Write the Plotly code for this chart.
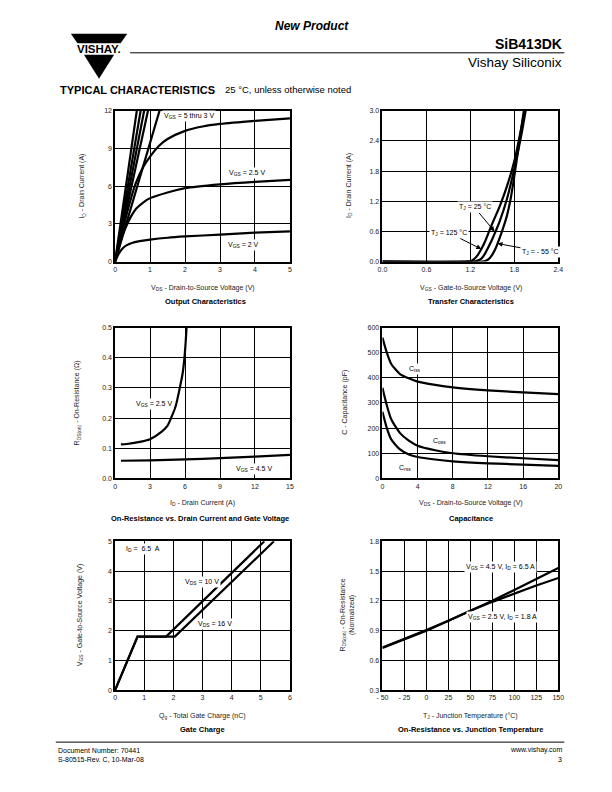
import plotly.graph_objects as go

# ---------------- DATA ----------------
# 1. Output characteristics (VDS in V, ID in A)
out_steep_vds_end = [0.62, 0.73, 0.83, 0.94, 1.27]   # VDS where steep curves reach 12 A (VGS 5 thru 3 V)
out_steep_id_end = [12, 12, 12, 12, 12]
out_c3_vds = [0, 0.2, 0.4, 0.6, 0.8, 1.0, 1.25, 1.5, 2.0, 2.5, 3.0, 4.0, 5.0]
out_c3_id = [0, 2.3, 4.5, 6.3, 7.5, 8.35, 9.2, 9.75, 10.4, 10.75, 10.95, 11.2, 11.4]
out_25_vds = [0, 0.2, 0.4, 0.6, 0.8, 1.0, 1.5, 2.0, 3.0, 4.0, 5.0]
out_25_id = [0, 2.0, 3.3, 4.2, 4.7, 5.05, 5.5, 5.85, 6.15, 6.35, 6.5]
out_20_vds = [0, 0.1, 0.2, 0.3, 0.5, 0.75, 1.0, 1.5, 2.0, 3.0, 4.0, 5.0]
out_20_id = [0, 0.6, 1.0, 1.25, 1.5, 1.65, 1.75, 1.9, 2.0, 2.15, 2.3, 2.4]

# 2. Transfer characteristics (VGS in V, ID in A)
tr_125_vgs = [0, 1.1, 1.2, 1.25, 1.3, 1.35, 1.4, 1.45, 1.5, 1.6, 1.7, 1.8, 1.9, 1.95]
tr_125_id = [0, 0, 0.01, 0.05, 0.13, 0.25, 0.4, 0.58, 0.76, 1.1, 1.5, 2.0, 2.7, 3.1]
tr_25_vgs = [0, 1.25, 1.3, 1.35, 1.4, 1.45, 1.5, 1.55, 1.6, 1.7, 1.8, 1.9, 1.96]
tr_25_id = [0, 0, 0.02, 0.06, 0.16, 0.3, 0.45, 0.62, 0.8, 1.25, 1.85, 2.55, 3.05]
tr_m55_vgs = [0, 1.35, 1.4, 1.45, 1.5, 1.55, 1.6, 1.65, 1.7, 1.75, 1.8, 1.85, 1.9, 1.95]
tr_m55_id = [0, 0, 0.01, 0.05, 0.14, 0.28, 0.47, 0.68, 0.92, 1.25, 1.7, 2.2, 2.7, 3.2]

# 3. On-resistance vs drain current (ID in A, RDS(on) in ohm)
ron_25_id = [0.5, 1, 2, 3, 4, 4.5, 4.8, 5.2, 5.55, 5.8, 5.95, 6.05, 6.13, 6.2]
ron_25_r = [0.113, 0.114, 0.12, 0.13, 0.155, 0.175, 0.2, 0.24, 0.30, 0.35, 0.40, 0.45, 0.5, 0.55]
ron_45_id = [0.5, 3, 6, 9, 12, 15]
ron_45_r = [0.0585, 0.060, 0.063, 0.067, 0.072, 0.078]

# 4. Capacitance (VDS in V, C in pF)
cap_vds = [0, 0.5, 1, 2, 3, 4, 6, 8, 12, 16, 20]
cap_ciss = [560, 500, 455, 415, 398, 385, 372, 362, 350, 342, 335]
cap_coss = [360, 290, 235, 180, 150, 130, 112, 100, 88, 80, 73]
cap_crss = [265, 200, 155, 115, 95, 85, 75, 68, 60, 55, 50]

# 5. Gate charge (Qg in nC, VGS in V)
gc_10_qg = [0, 0.77, 1.75, 5.12]
gc_10_vgs = [0, 1.8, 1.8, 5.0]
gc_16_qg = [0, 0.77, 2.05, 5.45]
gc_16_vgs = [0, 1.8, 1.8, 5.0]

# 6. On-resistance vs junction temperature (TJ in degC, normalized)
rt_tj = [-50, -25, 0, 25, 50, 75, 100, 125, 150]
rt_45 = [0.73, 0.815, 0.905, 1.0, 1.1, 1.2, 1.31, 1.42, 1.53]
rt_25 = [0.725, 0.81, 0.9, 1.0, 1.1, 1.19, 1.275, 1.355, 1.43]

# tick labels
tj_ticks = [-50, -25, 0, 25, 50, 75, 100, 125, 150]
tj_ticktext = ["- 50", "- 25", "0", "25", "50", "75", "100", "125", "150"]

# ---------------- FIGURE ----------------
OFF = 8                      # default page body margin of the html page
W, H = 612 - 2 * OFF, 792 - 2 * OFF   # keep the page free of scrollbars
FONT = "Liberation Sans, Arial, sans-serif"
TXT = "#222222"
# empirical correction between intended page pixels and the photographed picture
SX, BX = 0.975, 7.6
SY, BY = 0.992, 3.2


def X(px):
    return ((px - BX) / SX - OFF) / W


def Y(py):
    return 1 - ((py - BY) / SY - OFF) / H


fig = go.Figure()
LW = 2.2


def line(x, y, ax, shape="spline"):
    fig.add_trace(go.Scatter(x=x, y=y, mode="lines", xaxis="x" + ax, yaxis="y" + ax,
                             line=dict(color="black", width=LW, shape=shape, smoothing=0.6),
                             showlegend=False, hoverinfo="skip"))


# plot 1
for xe, ye in zip(out_steep_vds_end, out_steep_id_end):
    line([0, xe * 1.15], [0, ye * 1.15], "", "linear")
line(out_c3_vds, out_c3_id, "")
line(out_25_vds, out_25_id, "")
line(out_20_vds, out_20_id, "")
# plot 2
line(tr_125_vgs, tr_125_id, "2")
line(tr_25_vgs, tr_25_id, "2")
line(tr_m55_vgs, tr_m55_id, "2")
# plot 3
line(ron_25_id, ron_25_r, "3")
line(ron_45_id, ron_45_r, "3")
# plot 4
line(cap_vds, cap_ciss, "4")
line(cap_vds, cap_coss, "4")
line(cap_vds, cap_crss, "4")
# plot 5
line(gc_10_qg, gc_10_vgs, "5", "linear")
line(gc_16_qg, gc_16_vgs, "5", "linear")
# plot 6
line(rt_tj, rt_45, "6", "linear")
line(rt_tj, rt_25, "6", "linear")

# plot area boxes (page pixels)
boxes = {
    "": (116, 290, 110, 261),
    "2": (382, 557, 110, 261),
    "3": (116, 290, 327, 478),
    "4": (382, 557, 327, 478),
    "5": (116, 290, 541, 690),
    "6": (382, 557, 541, 690),
}
ranges = {
    "": ([0, 5], [0, 12], 1, 3, None, None),
    "2": ([0, 2.4], [0, 3], 0.6, 0.6, ".1f", ".1f"),
    "3": ([0, 15], [0, 0.5], 3, 0.1, None, ".1f"),
    "4": ([0, 20], [0, 600], 4, 100, None, None),
    "5": ([0, 6], [0, 5], 1, 1, None, None),
    "6": ([-50, 150], [0.3, 1.8], 25, 0.3, None, ".1f"),
}

layout = dict(width=W, height=H, autosize=False, margin=dict(l=0, r=0, t=0, b=0),
              paper_bgcolor="white", plot_bgcolor="white",
              font=dict(family=FONT, size=7, color=TXT))
for k, (x0, x1, y0, y1) in boxes.items():
    xr, yr, dx, dy, xf, yf = ranges[k]
    xa = dict(domain=[X(x0), X(x1)], range=xr, dtick=dx, tick0=xr[0], showgrid=True,
              gridcolor="black", gridwidth=1, showline=True, mirror=True, linecolor="black",
              linewidth=1.5, zeroline=False, ticks="", anchor="y" + k,
              tickfont=dict(size=7, color=TXT, family=FONT), fixedrange=True)
    ya = dict(domain=[Y(y1), Y(y0)], range=yr, dtick=dy, tick0=yr[0], showgrid=True,
              gridcolor="black", gridwidth=1, showline=True, mirror=True, linecolor="black",
              linewidth=1.5, zeroline=False, ticks="", anchor="x" + k,
              tickfont=dict(size=7, color=TXT, family=FONT), fixedrange=True)
    if xf:
        xa["tickformat"] = xf
    if yf:
        ya["tickformat"] = yf
    if k == "6":
        xa["tickmode"] = "array"
        xa["tickvals"] = tj_ticks
        xa["ticktext"] = tj_ticktext
    layout["xaxis" + k] = xa
    layout["yaxis" + k] = ya
fig.update_layout(**layout)

ann = []


def ptext(px, py, text, size=7, bold=False, angle=0, xanchor="center", color=TXT, italic=False):
    t = text
    if bold:
        t = "<b>" + t + "</b>"
    if italic:
        t = "<i>" + t + "</i>"
    ann.append(dict(x=X(px), y=Y(py), xref="paper", yref="paper", text=t, showarrow=False,
                    textangle=angle, xanchor=xanchor, yanchor="middle",
                    font=dict(size=size, color=color, family=FONT)))


def dtext(ax, x, y, text, size=7, bg="white"):
    ann.append(dict(x=x, y=y, xref="x" + ax, yref="y" + ax, text=text, showarrow=False,
                    bgcolor=bg, borderpad=1, font=dict(size=size, color="black", family=FONT)))


def arrow(ax, x, y, text, dx, dy):
    ann.append(dict(x=x, y=y, xref="x" + ax, yref="y" + ax, text=text, showarrow=True,
                    ax=dx, ay=dy, arrowhead=2, arrowsize=1, arrowwidth=1, arrowcolor="black",
                    bgcolor="white", borderpad=1,
                    font=dict(size=7, color="black", family=FONT)))


# axis titles and chart titles
ptext(203, 287, "V<sub>DS</sub> - Drain-to-Source Voltage (V)")
ptext(206, 301, "Output Characteristics", 7.5, bold=True, color="black")
ptext(83, 185, "I<sub>D</sub> - Drain Current (A)", angle=-90)

ptext(470, 287, "V<sub>GS</sub> - Gate-to-Source Voltage (V)")
ptext(470, 301, "Transfer Characteristics", 7.5, bold=True, color="black")
ptext(348, 185, "I<sub>D</sub> - Drain Current (A)", angle=-90)

ptext(203, 503, "I<sub>D</sub> - Drain Current (A)")
ptext(200, 518, "On-Resistance vs. Drain Current and Gate Voltage", 7.5, bold=True, color="black")
ptext(79, 402, "R<sub>DS(on)</sub> - On-Resistance (Ω)", angle=-90)

ptext(470, 503, "V<sub>DS</sub> - Drain-to-Source Voltage (V)")
ptext(470, 518, "Capacitance", 7.5, bold=True, color="black")
ptext(345, 402, "C - Capacitance (pF)", angle=-90)

ptext(203, 716, "Q<sub>g</sub> - Total Gate Charge (nC)")
ptext(203, 729, "Gate Charge", 7.5, bold=True, color="black")
ptext(81, 615, "V<sub>GS</sub> - Gate-to-Source Voltage (V)", angle=-90)

ptext(470, 716, "T<sub>J</sub> - Junction Temperature (°C)")
ptext(470, 729, "On-Resistance vs. Junction Temperature", 7.5, bold=True, color="black")
ptext(347, 615, "R<sub>DS(on)</sub> - On-Resistance<br>(Normalized)", angle=-90)

# in-plot labels
dtext("", 2.12, 11.6, "V<sub>GS</sub> = 5 thru 3 V")
dtext("", 3.76, 7.05, "V<sub>GS</sub> = 2.5 V")
dtext("", 3.67, 1.35, "V<sub>GS</sub> = 2 V")

arrow("2", 1.53, 0.6, "T<sub>J</sub> = 25 °C", -20, -24)
arrow("2", 1.35, 0.25, "T<sub>J</sub> = 125 °C", -32, -16)
arrow("2", 1.57, 0.36, "T<sub>J</sub> = - 55 °C", 43, 8)

dtext("3", 3.36, 0.245, "V<sub>GS</sub> = 2.5 V")
dtext("3", 11.95, 0.03, "V<sub>GS</sub> = 4.5 V")

dtext("4", 3.7, 437, "C<sub>iss</sub>")
dtext("4", 6.5, 147, "C<sub>oss</sub>")
dtext("4", 2.6, 40, "C<sub>rss</sub>")

dtext("5", 0.95, 4.73, "I<sub>D</sub> =  6.5  A")
dtext("5", 2.98, 3.62, "V<sub>DS</sub> = 10 V")
dtext("5", 3.43, 2.21, "V<sub>DS</sub> = 16 V")

dtext("6", 84, 1.54, "V<sub>GS</sub> = 4.5 V, I<sub>D</sub> = 6.5 A")
dtext("6", 86, 1.035, "V<sub>GS</sub> = 2.5 V, I<sub>D</sub> = 1.8 A")

# header
ptext(312, 25, "New Product", 12, bold=True, italic=True, color="black")
ptext(563, 43, "SiB413DK", 14, bold=True, xanchor="right", color="black")
ptext(563, 62, "Vishay Siliconix", 13.5, xanchor="right", color="black")
ptext(59, 89, "TYPICAL CHARACTERISTICS", 11, bold=True, xanchor="left", color="black")
ptext(223, 89, "25 °C, unless otherwise noted", 9.5, xanchor="left", color="black")
ptext(100, 48.5, "VISHAY.", 11.5, bold=True, color="black")

# footer
ptext(57, 750, "Document Number: 70441", 7, xanchor="left", color="black")
ptext(57, 759, "S-80515-Rev. C, 10-Mar-08", 7, xanchor="left", color="black")
ptext(563, 750, "www.vishay.com", 7, xanchor="right", color="black")
ptext(563, 759, "3", 7, xanchor="right", color="black")

fig.update_layout(annotations=ann)


# decorative logo and rules
def ppath(pts):
    return "M " + " L ".join(f"{X(a):.5f},{Y(b):.5f}" for a, b in pts) + " Z"


shapes = [
    dict(type="path", xref="paper", yref="paper",
         path=ppath([(72, 33), (128, 33), (121.5, 42.5), (78.5, 42.5)]),
         fillcolor="black", line=dict(width=0)),
    dict(type="path", xref="paper", yref="paper",
         path=ppath([(85, 54), (115, 54), (100, 78)]),
         fillcolor="black", line=dict(width=0)),
    dict(type="line", xref="paper", yref="paper", x0=X(131), x1=X(563), y0=Y(52), y1=Y(52),
         line=dict(color="black", width=1)),
    dict(type="line", xref="paper", yref="paper", x0=X(57), x1=X(563), y0=Y(742), y1=Y(742),
         line=dict(color="black", width=1)),
]
fig.update_layout(shapes=shapes)

fig.write_html("out.html")
